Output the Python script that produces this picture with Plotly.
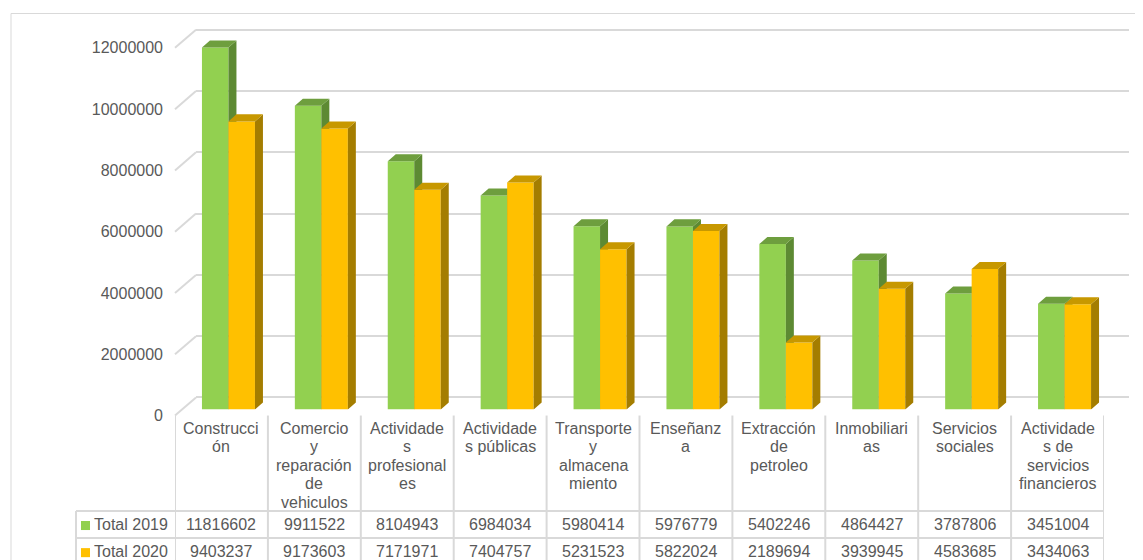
import plotly.graph_objects as go

# ---------------- data ----------------
categories = [
    "Construcci\nón",
    "Comercio\ny\nreparación\nde\nvehiculos",
    "Actividade\ns\nprofesional\nes",
    "Actividade\ns públicas",
    "Transporte\ny\nalmacena\nmiento",
    "Enseñanz\na",
    "Extracción\nde\npetroleo",
    "Inmobiliari\nas",
    "Servicios\nsociales",
    "Actividade\ns de\nservicios\nfinancieros",
]
series_names = ["Total 2019", "Total 2020"]
total_2019 = [11816602, 9911522, 8104943, 6984034, 5980414, 5976779, 5402246, 4864427, 3787806, 3451004]
total_2020 = [9403237, 9173603, 7171971, 7404757, 5231523, 5822024, 2189694, 3939945, 4583685, 3434063]
y_ticks = [0, 2000000, 4000000, 6000000, 8000000, 10000000, 12000000]

# ---------------- styling / geometry ----------------
W, H = 1143, 560
# screen placement of the figure (page offset and vertical fit of the capture)
OFF_X, OFF_Y, SCALE_Y = 8, 12.3, 0.9777
FONT = "Liberation Sans, Arial, sans-serif"
TXT = "#595959"
GRID = "#D9D9D9"
GREEN = dict(front="#92D050", top="#6E9E3E", side="#5D8A33")
ORANGE = dict(front="#FFC000", top="#C79800", side="#A47D00")

# geometry in screen pixels
PLOT_L, PLOT_R = 175, 1104          # front of floor / table columns
BACK_L, BACK_R = 196, 1129          # back wall extent
FRONT_ZERO, BAR_ZERO, BACK_ZERO = 413, 407, 395
K = 366 / 12e6                       # screen px per unit value
DEPTH_X_PX, DEPTH_Y_PX = 8, 7
BAR_W_PX, GROUP_SHIFT_PX = 26.5, 7
N = len(categories)
COL_W = (PLOT_R - PLOT_L) / N


def pxx(p):
    return (p - OFF_X) / W


def pxy(p):
    return 1 - ((p - OFF_Y) / SCALE_Y) / H


def ydomain(zero_px, r0, r1):
    return [pxy(zero_px - r0 * K), pxy(zero_px - r1 * K)]


GR = [-1e5, 12.1e6]
BR = [0, 12.6e6]
XR = [-0.5, N - 0.5]

dx = DEPTH_X_PX / COL_W
dy = DEPTH_Y_PX / K
bw = BAR_W_PX / COL_W
shift = GROUP_SHIFT_PX / COL_W
offsets = [shift - bw / 2, shift + bw / 2]

fig = go.Figure()

fig.add_trace(go.Scatter(x=[0, 1], y=[0, 0], mode="markers", marker=dict(opacity=0),
                         hoverinfo="skip", showlegend=False, xaxis="x", yaxis="y"))
fig.add_trace(go.Scatter(x=[0, 1], y=[0, 0], mode="markers", marker=dict(opacity=0),
                         hoverinfo="skip", showlegend=False, xaxis="x", yaxis="y4"))


def faces(vals, off):
    tx, ty, sx, sy = [], [], [], []
    for i, h in enumerate(vals):
        xl = i + off - bw / 2
        xr = i + off + bw / 2
        tx += [xl, xr, xr + dx, xl + dx, xl, None]
        ty += [h, h, h + dy, h + dy, h, None]
        sx += [xr, xr + dx, xr + dx, xr, xr, None]
        sy += [0, dy, h + dy, h, 0, None]
    return tx, ty, sx, sy


for s, (vals, col, xa, ya) in enumerate([(total_2019, GREEN, "x2", "y2"),
                                           (total_2020, ORANGE, "x3", "y3")]):
    xs = [i + offsets[s] for i in range(N)]
    fig.add_trace(go.Bar(x=xs, y=vals, width=bw, name=series_names[s],
                         marker=dict(color=col["front"], line=dict(width=0)),
                         xaxis=xa, yaxis=ya, showlegend=False))
    tx, ty, sx, sy = faces(vals, offsets[s])
    fig.add_trace(go.Scatter(x=sx, y=sy, mode="lines", fill="toself", fillcolor=col["side"],
                             line=dict(width=0, color=col["side"]), hoverinfo="skip",
                             showlegend=False, xaxis=xa, yaxis=ya))
    fig.add_trace(go.Scatter(x=tx, y=ty, mode="lines", fill="toself", fillcolor=col["top"],
                             line=dict(width=0, color=col["top"]), hoverinfo="skip",
                             showlegend=False, xaxis=xa, yaxis=ya))

hidden = dict(showgrid=False, zeroline=False, showticklabels=False, showline=False, ticks="")

layout = dict(
    width=W, height=H, margin=dict(l=0, r=0, t=0, b=0, pad=0), autosize=False,
    paper_bgcolor="white", plot_bgcolor="rgba(0,0,0,0)", showlegend=False,
    barmode="overlay", font=dict(family=FONT, size=16, color=TXT),
    xaxis=dict(domain=[pxx(BACK_L), min(1, pxx(BACK_R))], range=[0, 1], **hidden),
    yaxis=dict(domain=ydomain(BACK_ZERO, *GR), range=GR, showgrid=True, gridcolor=GRID,
               gridwidth=2, zeroline=False, showticklabels=False, ticks="", showline=False,
               tickmode="array", tickvals=y_ticks),
    yaxis4=dict(domain=ydomain(FRONT_ZERO, *GR), range=GR, anchor="free", position=pxx(PLOT_L),
                side="left", showgrid=False, zeroline=False, showline=False, ticks="",
                tickmode="array", tickvals=y_ticks, ticktext=[str(v) for v in y_ticks],
                ticklabelstandoff=12, tickfont=dict(family=FONT, size=16, color=TXT)),
    xaxis2=dict(domain=[pxx(PLOT_L), pxx(PLOT_R)], range=XR, anchor="y2", **hidden),
    yaxis2=dict(domain=ydomain(BAR_ZERO, *BR), range=BR, anchor="x2", **hidden),
    xaxis3=dict(overlaying="x2", range=XR, anchor="y3", **hidden),
    yaxis3=dict(overlaying="y2", range=BR, anchor="x3", **hidden),
)
fig.update_layout(**layout)

shapes = []
line = dict(color=GRID, width=2)
shapes.append(dict(type="rect", xref="paper", yref="paper", x0=pxx(11), x1=1.2,
                   y0=min(pxy(12), 1 - 0.5 / H), y1=-0.2,
                   line=dict(color=GRID, width=1), layer="below"))
for v in y_ticks:
    shapes.append(dict(type="line", xref="paper", yref="paper",
                       x0=pxx(PLOT_L), y0=pxy(FRONT_ZERO - v * K),
                       x1=pxx(BACK_L), y1=pxy(BACK_ZERO - v * K), line=line, layer="below"))
ROW1_TOP, ROW2_TOP, ROW_H = 508, 535, 27
LEG_L = 76
for k in range(N + 1):
    shapes.append(dict(type="line", xref="x2", yref="paper", x0=k - 0.5, x1=k - 0.5,
                       y0=pxy(FRONT_ZERO), y1=-0.1, line=line))
shapes.append(dict(type="line", xref="paper", yref="paper", x0=pxx(LEG_L), x1=pxx(LEG_L),
                   y0=pxy(ROW1_TOP), y1=-0.1, line=line))
for yy in [ROW1_TOP, ROW2_TOP, ROW2_TOP + ROW_H]:
    shapes.append(dict(type="line", xref="paper", yref="paper", x0=pxx(LEG_L), x1=pxx(PLOT_R),
                       y0=pxy(yy), y1=pxy(yy), line=line))
for s, col in enumerate([GREEN, ORANGE]):
    cy = ROW1_TOP + ROW_H * s + 14.5
    shapes.append(dict(type="rect", xref="paper", yref="paper", x0=pxx(81), x1=pxx(90),
                       y0=pxy(cy - 4.5), y1=pxy(cy + 4.5), line=dict(width=0),
                       fillcolor=col["front"]))
fig.update_layout(shapes=shapes)

ann = []
for i, cat in enumerate(categories):
    for j, ln in enumerate(cat.split("\n")):
        ann.append(dict(x=i, xref="x2", y=pxy(425.5 + j * 18.4), yref="paper", text=ln,
                        showarrow=False, xanchor="center", yanchor="middle",
                        font=dict(family=FONT, size=16, color=TXT)))
for s, vals in enumerate([total_2019, total_2020]):
    cy = ROW1_TOP + ROW_H * s + 13.5
    ann.append(dict(x=pxx(92), xref="paper", y=pxy(cy), yref="paper", text=series_names[s],
                    showarrow=False, xanchor="left", yanchor="middle",
                    font=dict(family=FONT, size=16, color=TXT)))
    for i, v in enumerate(vals):
        ann.append(dict(x=i, xref="x2", y=pxy(cy), yref="paper", text=str(v),
                        showarrow=False, xanchor="center", yanchor="middle",
                        font=dict(family=FONT, size=16, color=TXT)))
fig.update_layout(annotations=ann)

fig.write_html("out.html")
